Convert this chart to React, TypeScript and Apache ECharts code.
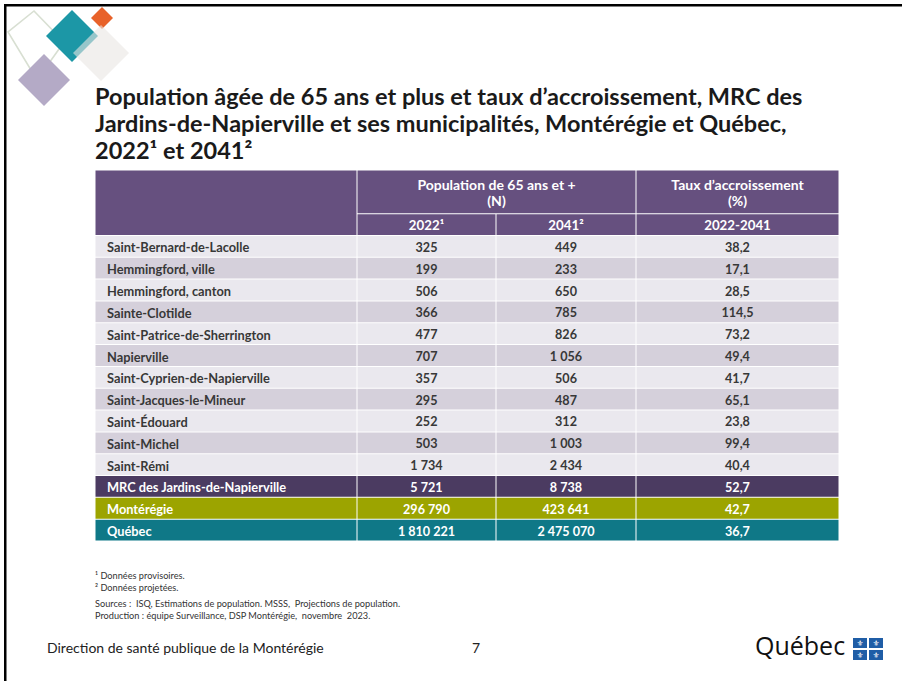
import React, { useEffect, useRef } from "react";
import * as echarts from "echarts";

// ---------- data ----------
const ROW_LABELS = [
  "Saint-Bernard-de-Lacolle",
  "Hemmingford, ville",
  "Hemmingford, canton",
  "Sainte-Clotilde",
  "Saint-Patrice-de-Sherrington",
  "Napierville",
  "Saint-Cyprien-de-Napierville",
  "Saint-Jacques-le-Mineur",
  "Saint-Édouard",
  "Saint-Michel",
  "Saint-Rémi",
  "MRC des Jardins-de-Napierville",
  "Montérégie",
  "Québec",
];
const POP_2022 = [325, 199, 506, 366, 477, 707, 357, 295, 252, 503, 1734, 5721, 296790, 1810221];
const POP_2041 = [449, 233, 650, 785, 826, 1056, 506, 487, 312, 1003, 2434, 8738, 423641, 2475070];
const GROWTH = [38.2, 17.1, 28.5, 114.5, 73.2, 49.4, 41.7, 65.1, 23.8, 99.4, 40.4, 52.7, 42.7, 36.7];

const HEADER_GROUPS = ["Population de 65 ans et +", "(N)", "Taux d’accroissement", "(%)"];
const HEADER_YEARS = ["2022¹", "2041²", "2022-2041"];
const HEADER_BANDS = ["h0", "h1", "h2"];

const TITLE_LINES = [
  "Population âgée de 65 ans et plus et taux d’accroissement, MRC des",
  "Jardins-de-Napierville et ses municipalités, Montérégie et Québec,",
  "2022¹ et 2041²",
];
const NOTES = ["¹ Données provisoires.", "² Données projetées."];
const SOURCES = [
  "Sources :  ISQ, Estimations de population. MSSS,  Projections de population.",
  "Production : équipe Surveillance, DSP Montérégie,  novembre  2023.",
];
const FOOTER = "Direction de santé publique de la Montérégie";
const PAGE_NO = "7";

// ---------- layout / style ----------
const COL_EDGES = [0, 262, 401, 541, 744];
const FONT = "Lato";
const PURPLE = "#66507F";
const ROW_LIGHT = "#EAE8EE";
const ROW_DARK = "#D5D0DB";
const SPECIAL_FILLS = ["#4B3B61", "#9CA400", "#0F7887"];
const TEXT_DARK = "#383838";
const BODY_SIZE = 12.6;

const fmtInt = (n: number) => String(n).replace(/\B(?=(\d{3})+(?!\d))/g, " ");
const fmtDec = (n: number) => n.toFixed(1).replace(".", ",");

function buildOption() {
  const cellText = (text: string, x: number, y: number, align: string, fill: string, size = BODY_SIZE) => ({
    type: "text",
    x,
    y,
    style: {
      text,
      align,
      verticalAlign: "middle",
      fill,
      fontSize: size,
      fontWeight: "bold",
      fontFamily: FONT,
    },
  });

  const headerRender = (params: any, api: any) => {
    const bandH = api.size([0, 1])[1];
    const top = (b: number) => api.coord([0, b])[1] - bandH / 2;
    const xe = (e: number) => api.coord([COL_EDGES[e], 0])[0];
    const rect = (x0: number, x1: number, y0: number, h: number) => ({
      type: "rect",
      shape: { x: x0 + 0.5, y: y0 + 0.5, width: x1 - x0 - 1, height: h - 1 },
      style: { fill: PURPLE },
    });
    const children: any[] = [
      rect(xe(0), xe(1), top(0), bandH * 3),
      rect(xe(1), xe(3), top(0), bandH * 2),
      rect(xe(3), xe(4), top(0), bandH * 2),
      rect(xe(1), xe(2), top(2), bandH),
      rect(xe(2), xe(3), top(2), bandH),
      rect(xe(3), xe(4), top(2), bandH),
    ];
    const g1x = (xe(1) + xe(3)) / 2;
    const g2x = (xe(3) + xe(4)) / 2;
    children.push(cellText(HEADER_GROUPS[0], g1x, top(0) + bandH * 0.66, "center", "#fff", 14));
    children.push(cellText(HEADER_GROUPS[1], g1x, top(0) + bandH * 1.4, "center", "#fff", 14));
    children.push(cellText(HEADER_GROUPS[2], g2x, top(0) + bandH * 0.66, "center", "#fff", 14));
    children.push(cellText(HEADER_GROUPS[3], g2x, top(0) + bandH * 1.4, "center", "#fff", 14));
    HEADER_YEARS.forEach((t, k) => {
      children.push(cellText(t, (xe(k + 1) + xe(k + 2)) / 2, top(2) + bandH / 2 + 0.5, "center", "#fff", 13.3));
    });
    return { type: "group", children };
  };

  const rowRender = (params: any, api: any) => {
    const i = params.dataIndex;
    const band = api.value(1);
    const bandH = api.size([0, 1])[1];
    const yc = api.coord([0, band])[1];
    const y0 = yc - bandH / 2;
    const ty = yc + 1;
    const xe = (e: number) => api.coord([COL_EDGES[e], band])[0];
    const nMuni = ROW_LABELS.length - 3;
    const fill = i < nMuni ? (i % 2 === 0 ? ROW_LIGHT : ROW_DARK) : SPECIAL_FILLS[i - nMuni];
    const txt = i < nMuni ? TEXT_DARK : "#ffffff";
    const children: any[] = [];
    for (let c = 0; c < 4; c++) {
      children.push({
        type: "rect",
        shape: { x: xe(c) + 0.5, y: y0 + 0.5, width: xe(c + 1) - xe(c) - 1, height: bandH - 1 },
        style: { fill },
      });
    }
    children.push(cellText(ROW_LABELS[i], xe(0) + 12, ty, "left", txt, 12.8));
    children.push(cellText(fmtInt(POP_2022[i]), (xe(1) + xe(2)) / 2, ty, "center", txt));
    children.push(cellText(fmtInt(POP_2041[i]), (xe(2) + xe(3)) / 2, ty, "center", txt));
    children.push(cellText(fmtDec(GROWTH[i]), (xe(3) + xe(4)) / 2, ty, "center", txt));
    return { type: "group", children };
  };

  const titleText = (t: string, y: number) => ({
    type: "text",
    left: 95,
    top: y,
    style: { text: t, fontSize: 23.5, fontWeight: "bold", fontFamily: FONT, fill: "#1A1A1A" },
  });

  const diamond = (cx: number, cy: number, r: number, fill: string, opacity = 1) => ({
    type: "polygon",
    shape: { points: [[cx, cy - r], [cx + r, cy], [cx, cy + r], [cx - r, cy]] },
    style: { fill, opacity },
  });

  const flagCells = [
    [853, 638],
    [869, 638],
    [853, 650],
    [869, 650],
  ];

  const note = (t: string, y: number) => ({
    type: "text",
    left: 95,
    top: y,
    style: { text: t, fontSize: 9.2, fontFamily: FONT, fill: "#333" },
  });

  return {
    animation: false,
    backgroundColor: "#ffffff",
    grid: { left: 95, top: 170, width: 744, height: 371, containLabel: false },
    xAxis: { type: "value", min: 0, max: 744, show: false },
    yAxis: {
      type: "category",
      inverse: true,
      show: false,
      data: [...HEADER_BANDS, ...ROW_LABELS],
    },
    series: [
      {
        type: "custom",
        renderItem: headerRender,
        data: [[0, 0]],
        encode: { x: 0, y: 1 },
        silent: true,
      },
      {
        type: "custom",
        renderItem: rowRender,
        data: ROW_LABELS.map((_, i) => [0, i + HEADER_BANDS.length]),
        encode: { x: 0, y: 1 },
        silent: true,
      },
    ],
    graphic: [
      // slide frame
      { type: "rect", shape: { x: 4, y: 4, width: 898, height: 2.5 }, style: { fill: "#000" } },
      { type: "rect", shape: { x: 4, y: 4, width: 2.5, height: 677 }, style: { fill: "#000" } },
      // decorative diamonds
      { type: "polygon", shape: { points: [[34, 11], [64, 42], [37, 80], [8, 32]] }, style: { fill: "none", stroke: "#D8DFD2", lineWidth: 1.6 } },
      diamond(44, 80, 26, "#B4AAC6"),
      diamond(72, 36, 26, "#1C97A6"),
      diamond(102, 18, 11, "#E8622A"),
      diamond(101, 53, 28, "#E9E6E2", 0.6),
      // title
      titleText(TITLE_LINES[0], 84),
      titleText(TITLE_LINES[1], 111),
      titleText(TITLE_LINES[2], 138),
      // notes
      note(NOTES[0], 571),
      note(NOTES[1], 583),
      note(SOURCES[0], 599),
      note(SOURCES[1], 611),
      // footer
      { type: "text", left: 47, top: 640, style: { text: FOOTER, fontSize: 14, fontFamily: FONT, fill: "#222" } },
      { type: "text", left: 472, top: 640, style: { text: PAGE_NO, fontSize: 14, fontFamily: FONT, fill: "#222" } },
      // Québec logo
      { type: "text", left: 755, top: 632, style: { text: "Québec", fontSize: 25, fontFamily: "Open Sans", fill: "#111" } },
      ...flagCells.map(([x, y]) => ({ type: "rect", shape: { x, y, width: 14, height: 10 }, style: { fill: "#1F5DA6" } })),
      ...flagCells.map(([x, y]) => ({
        type: "text",
        x: x + 7,
        y: y + 5,
        style: { text: "⚜", fontSize: 8, fontFamily: "DejaVu Sans", fill: "#fff", align: "center", verticalAlign: "middle" },
      })),
    ],
  };
}

export default function App() {
  const ref = useRef<HTMLDivElement>(null);
  useEffect(() => {
    if (!ref.current) return;
    const chart = echarts.init(ref.current, undefined, { renderer: "svg" });
    chart.setOption(buildOption() as any);
    return () => chart.dispose();
  }, []);
  return (
    <div
      ref={ref}
      style={{ position: "fixed", left: 0, top: 0, width: 902, height: 681, background: "#fff" }}
    />
  );
}
